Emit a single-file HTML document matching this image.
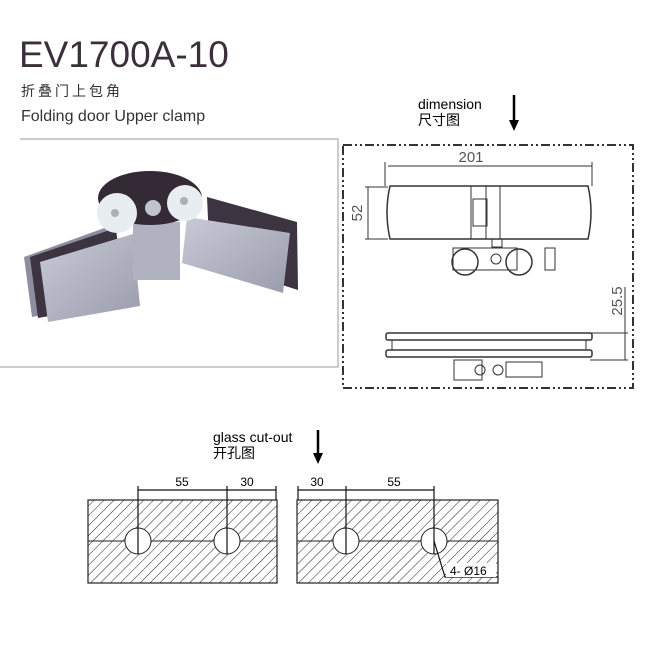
<!DOCTYPE html>
<html><head><meta charset="utf-8"><style>
body{margin:0;background:#fff;width:650px;height:650px;overflow:hidden}
svg{display:block}
</style></head><body>
<svg width="650" height="650" xmlns="http://www.w3.org/2000/svg" font-family="Liberation Sans, Noto Sans CJK SC, sans-serif">
<defs>
<pattern id="h" width="7" height="7" patternUnits="userSpaceOnUse" patternTransform="rotate(45)">
<line x1="0" y1="0" x2="0" y2="7" stroke="#222" stroke-width="1"/>
</pattern>
<linearGradient id="m" x1="0" y1="0" x2="1" y2="1"><stop offset="0" stop-color="#c8cad6"/><stop offset="1" stop-color="#9a9cac"/></linearGradient>
</defs>
<text x="19" y="67" font-size="37" fill="#3a2f3a">EV1700A-10</text>
<text x="21" y="96" font-size="14" fill="#333" letter-spacing="3" font-family="Noto Sans CJK SC, sans-serif">折叠门上包角</text>
<text x="21" y="121" font-size="16" fill="#333">Folding door Upper clamp</text>
<path d="M20 139 H338 V367 H0" fill="none" stroke="#bbb" stroke-width="1.5"/>
<g>
<polygon points="24,257 110,226 118,300 32,317" fill="#8c8ea0"/>
<polygon points="30,257 116,228 124,303 38,318" fill="#3c3440"/>
<polygon points="40,262 133,234 140,306 48,322" fill="url(#m)"/>
<polygon points="207,197 297,222 298,290 210,262" fill="#3c3440"/>
<polygon points="187,217 290,233 283,293 182,263" fill="url(#m)"/>
<rect x="133" y="222" width="47" height="58" fill="#b0b2c0"/>
<ellipse cx="150" cy="198" rx="52" ry="27" fill="#332a35"/>
<circle cx="117" cy="213" r="20" fill="#e8eef0"/>
<circle cx="185" cy="203" r="18" fill="#e8eef0"/>
<circle cx="115" cy="213" r="4" fill="#a8b0b8"/>
<circle cx="184" cy="201" r="4" fill="#a8b0b8"/>
<circle cx="153" cy="208" r="8" fill="#c0c4cc"/>
</g>
<text x="418" y="109" font-size="14" fill="#000">dimension</text>
<text x="418" y="125" font-size="14" fill="#000" font-family="Noto Sans CJK SC, sans-serif">尺寸图</text>
<line x1="514" y1="95" x2="514" y2="122" stroke="#000" stroke-width="2.5"/>
<polygon points="509,120 519,120 514,131" fill="#000"/>
<rect x="343" y="145" width="290" height="243" fill="none" stroke="#333" stroke-width="2" stroke-dasharray="9,3,2,3,2,3"/>
<g stroke="#333" fill="none" stroke-width="1">
<line x1="388" y1="166" x2="592" y2="166"/>
<line x1="385" y1="162" x2="385" y2="186"/><line x1="592" y1="162" x2="592" y2="186"/>
<line x1="365" y1="187" x2="388" y2="187"/><line x1="365" y1="239" x2="388" y2="239"/>
<line x1="368" y1="187" x2="368" y2="239"/>
<path d="M390 186 H588 Q594 212 588 239 H390 Q384 212 390 186Z" stroke-width="1.5"/>
<line x1="471" y1="186" x2="471" y2="239"/><line x1="500" y1="186" x2="500" y2="239"/>
<line x1="486" y1="186" x2="486" y2="239"/>
<rect x="473" y="199" width="14" height="27"/>
<rect x="492" y="239" width="10" height="8"/>
<rect x="453" y="248" width="64" height="22"/>
<rect x="545" y="248" width="10" height="22"/>
<circle cx="465" cy="262" r="13" stroke-width="1.5"/>
<circle cx="519" cy="262" r="13" stroke-width="1.5"/>
<circle cx="496" cy="259" r="5"/>
<line x1="625" y1="287" x2="625" y2="360"/>
<line x1="590" y1="333" x2="628" y2="333"/><line x1="590" y1="360" x2="628" y2="360"/>
<rect x="386" y="333" width="206" height="7" rx="2" stroke-width="1.5"/>
<rect x="392" y="340" width="194" height="10"/>
<rect x="386" y="350" width="206" height="7" rx="2" stroke-width="1.5"/>
<rect x="454" y="360" width="28" height="20"/>
<circle cx="480" cy="370" r="5"/><circle cx="498" cy="370" r="5"/>
<rect x="506" y="362" width="36" height="15"/>
</g>
<text x="471" y="162" font-size="15" fill="#555" text-anchor="middle">201</text>
<text transform="translate(362,213) rotate(-90)" font-size="15" fill="#555" text-anchor="middle">52</text>
<text transform="translate(622,301) rotate(-90)" font-size="15" fill="#555" text-anchor="middle">25.5</text>
<text x="213" y="442" font-size="14" fill="#000">glass cut-out</text>
<text x="213" y="458" font-size="14" fill="#000" font-family="Noto Sans CJK SC, sans-serif">开孔图</text>
<line x1="318" y1="430" x2="318" y2="455" stroke="#000" stroke-width="2.5"/>
<polygon points="313,453 323,453 318,464" fill="#000"/>
<rect x="88" y="500" width="189" height="83" fill="url(#h)" stroke="#222" stroke-width="1.2"/>
<line x1="88" y1="541" x2="277" y2="541" stroke="#222"/>
<circle cx="138" cy="541" r="13" fill="#fff" stroke="#222"/>
<circle cx="227" cy="541" r="13" fill="#fff" stroke="#222"/>
<g stroke="#111" stroke-width="1.2">
<line x1="138" y1="486" x2="138" y2="554"/><line x1="227" y1="486" x2="227" y2="554"/>
<line x1="276" y1="486" x2="276" y2="500"/>
<line x1="138" y1="490" x2="276" y2="490"/>
</g>
<text x="182" y="486" font-size="12" text-anchor="middle">55</text>
<text x="247" y="486" font-size="12" text-anchor="middle">30</text>
<rect x="297" y="500" width="201" height="83" fill="url(#h)" stroke="#222" stroke-width="1.2"/>
<line x1="297" y1="541" x2="498" y2="541" stroke="#222"/>
<circle cx="346" cy="541" r="13" fill="#fff" stroke="#222"/>
<circle cx="434" cy="541" r="13" fill="#fff" stroke="#222"/>
<g stroke="#111" stroke-width="1.2">
<line x1="346" y1="486" x2="346" y2="554"/><line x1="434" y1="486" x2="434" y2="554"/>
<line x1="298" y1="486" x2="298" y2="500"/>
<line x1="298" y1="490" x2="434" y2="490"/>
<polyline points="434,541 445,577 498,577" fill="none"/>
</g>
<rect x="446" y="563" width="50" height="14" fill="#fff"/>
<text x="317" y="486" font-size="12" text-anchor="middle">30</text>
<text x="394" y="486" font-size="12" text-anchor="middle">55</text>
<text x="450" y="575" font-size="12">4- Ø16</text>
</svg>
</body></html>
